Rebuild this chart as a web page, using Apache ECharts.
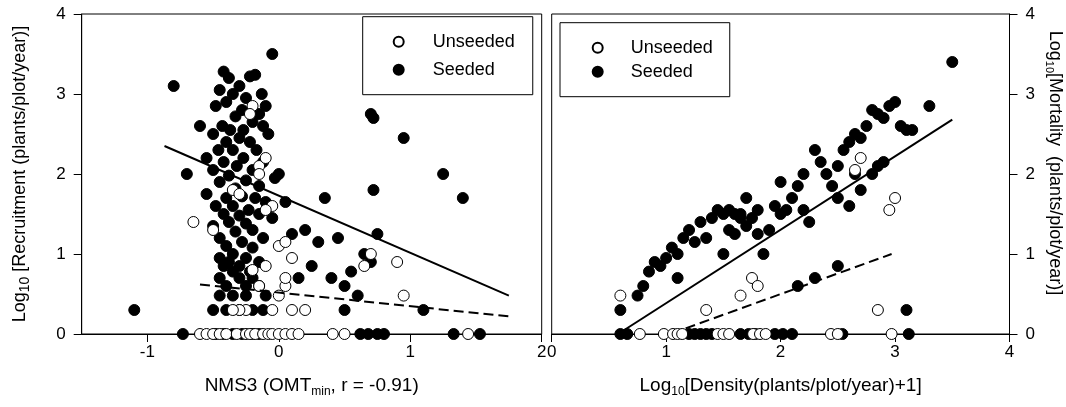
<!DOCTYPE html>
<html><head><meta charset="utf-8">
<script src="https://cdn.jsdelivr.net/npm/echarts@6/dist/echarts.min.js"></script>
<style>html,body{margin:0;padding:0;background:#fff}#c{width:1066px;height:407px}</style>
</head><body><div id="c"></div>
<script>
// ---- data ----
const leftXTicks = [-1, 0, 1, 2];
const rightXTicks = [0, 1, 2, 3, 4];
const yTicks = [0, 1, 2, 3, 4];

const leftSeeded = [
 [-0.42,3.28],[-0.38,3.2],[-0.3,3.1],[-0.22,3.22],[-0.18,3.24],[-0.13,3.0],[-0.35,3.0],[-0.45,3.05],[-0.05,3.5],[-0.8,3.1],
 [-0.25,2.95],[-0.4,2.9],[-0.1,2.85],[-0.28,2.8],[-0.48,2.85],[-0.15,2.75],[-0.33,2.72],[-0.2,2.65],[-0.43,2.6],[-0.6,2.6],
 [-0.37,2.55],[-0.27,2.55],[-0.12,2.6],[-0.5,2.5],[-0.3,2.45],[-0.22,2.4],[-0.4,2.4],[-0.08,2.5],[-0.46,2.3],[-0.35,2.3],
 [-0.17,2.3],[-0.55,2.2],[-0.27,2.2],[-0.42,2.15],[-0.12,2.15],[-0.32,2.1],[-0.5,2.05],[-0.2,2.05],[-0.7,2.0],[-0.38,1.98],
 [-0.03,1.95],[-0.25,1.92],[-0.45,1.9],[-0.15,1.85],[-0.33,1.82],[-0.55,1.75],[-0.28,1.72],[-0.4,1.7],[-0.18,1.7],[-0.1,1.65],
 [-0.48,1.6],[-0.35,1.6],[-0.23,1.55],[-0.42,1.5],[-0.3,1.48],[-0.15,1.5],[-0.05,1.45],[-0.38,1.4],[-0.25,1.38],[-0.5,1.35],
 [-0.2,1.3],[-0.33,1.28],[-0.45,1.2],[-0.12,1.2],[-0.28,1.15],[-0.4,1.1],[-0.2,1.08],[-0.35,1.0],[-0.45,0.95],[-0.25,0.95],
 [-0.15,0.9],[-0.38,0.9],[-0.3,0.85],[-0.42,0.85],[-0.22,0.78],[-0.35,0.78],[-0.45,0.7],[-0.3,0.7],[-0.2,0.7],[-0.4,0.6],
 [-0.25,0.6],[-0.15,0.6],[-0.35,0.48],[-0.25,0.48],[-0.45,0.48],[-0.1,0.48],[-0.4,0.3],[-0.3,0.3],[-0.2,0.3],[-0.12,0.3],
 [-0.5,0.3],[-1.1,0.3],
 [0.0,2.0],[0.05,1.65],[0.1,1.25],[0.2,1.3],[0.3,1.15],[0.35,1.7],[0.4,0.7],[0.45,1.2],[0.5,0.6],[0.5,0.3],[0.6,0.48],
 [0.65,1.0],[0.7,2.75],[0.72,2.7],[0.72,1.8],[0.75,1.25],[0.7,0.9],[0.95,2.45],[1.1,0.3],[1.25,2.0],[1.4,1.7],[0.25,0.85],
 [0.15,0.7],[0.55,0.78],
 [-0.73,0],[-0.48,0],[-0.42,0],[-0.35,0],[-0.28,0],[-0.2,0],[-0.15,0],[0.62,0],[0.68,0],[0.75,0],[0.8,0],[1.33,0],[1.53,0]
];
const leftUnseeded = [
 [-0.65,1.4],[-0.5,1.3],[-0.35,1.8],[-0.2,2.85],[-0.22,2.75],[-0.15,2.1],[-0.1,2.2],[-0.05,1.6],[-0.3,1.75],[0.0,1.1],
 [0.05,1.15],[0.1,0.95],[-0.2,0.8],[-0.15,0.6],[-0.1,0.85],[0.05,0.6],[0.0,0.48],[0.1,0.3],[0.2,0.3],[-0.25,0.3],
 [-0.3,0.3],[-0.35,0.3],[-0.05,0.3],[0.65,0.85],[0.7,1.0],[0.9,0.9],[0.95,0.48],[-0.15,2.0],[-0.1,1.55],[0.05,0.7],
 [-0.6,0],[-0.55,0],[-0.5,0],[-0.45,0],[-0.4,0],[-0.32,0],[-0.25,0],[-0.22,0],[-0.18,0],[-0.12,0],[-0.08,0],[-0.05,0],
 [0.0,0],[0.05,0],[0.1,0],[0.15,0],[0.41,0],[0.5,0],[1.44,0]
];
const leftSeededFit = [[-0.87,2.35],[1.75,0.48]];
const leftUnseededFit = [[-0.6,0.62],[1.75,0.22]];

const rightSeeded = [
 [0.6,0.3],[0.75,0.48],[0.8,0.6],[0.85,0.78],[0.9,0.9],[0.95,0.85],[1.0,0.95],[1.05,1.08],[1.1,0.7],[1.1,1.0],
 [1.15,1.2],[1.2,1.3],[1.25,1.15],[1.3,1.4],[1.35,1.2],[1.4,1.45],[1.45,1.55],[1.5,1.5],[1.55,1.55],[1.6,1.5],
 [1.65,1.45],[1.7,1.35],[1.5,1.0],[1.55,1.3],[1.6,1.25],[1.65,1.5],[1.7,1.7],[1.75,1.45],[1.8,1.55],[1.8,1.25],
 [1.85,1.0],[1.9,1.3],[1.95,1.6],[2.0,1.5],[2.05,1.55],[2.0,1.9],[2.1,1.7],[2.15,1.85],[2.2,2.0],[2.2,1.55],
 [2.25,1.4],[2.3,2.3],[2.35,2.15],[2.4,2.0],[2.45,1.85],[2.5,2.1],[2.5,1.7],[2.55,2.3],[2.6,2.4],[2.65,2.5],
 [2.7,2.45],[2.75,2.6],[2.8,2.8],[2.85,2.75],[2.9,2.7],[2.95,2.85],[3.0,2.9],[3.05,2.6],[3.1,2.55],[3.15,2.55],
 [3.3,2.85],[3.5,3.4],[2.6,1.6],[2.65,2.0],[2.7,1.8],[2.8,2.0],[2.85,2.1],[2.9,2.15],[2.15,0.6],[2.3,0.7],[2.5,0.85],
 [3.1,0.3],
 [0.6,0],[0.66,0],[1.2,0],[1.25,0],[1.3,0],[1.35,0],[1.4,0],[1.65,0],[1.72,0],[1.78,0],[1.95,0],[2.02,0],[2.1,0],[2.54,0],[3.12,0]
];
const rightUnseeded = [
 [0.6,0.48],[1.35,0.3],[1.75,0.7],[1.65,0.48],[1.8,0.6],[2.65,2.05],[2.7,2.2],[2.95,1.55],[3.0,1.7],[2.85,0.3],
 [0.77,0],[0.98,0],[1.06,0],[1.1,0],[1.14,0],[1.45,0],[1.5,0],[1.55,0],[1.76,0],[1.82,0],[1.87,0],[2.44,0],[2.5,0],[2.97,0]
];
const rightSeededFit = [[0.58,0],[3.5,2.68]];
const rightUnseededFit = [[1.17,0.07],[2.97,1.0]];

// ---- chart ----
const FONT = 'Liberation Sans, Arial, sans-serif';
const black = '#000';

function xAxis(grid, min, max, ticks, name, subSize) {
  return {
    type: 'value', gridIndex: grid, min: min, max: max,
    axisLine: { onZero: false, lineStyle: { color: black, width: 1 } },
    axisTick: { customValues: ticks, length: 8, lineStyle: { color: black } },
    axisLabel: { customValues: ticks, fontSize: 17, color: black, fontFamily: FONT, margin: 10 },
    splitLine: { show: false },
    name: name, nameLocation: 'middle', nameGap: 42,
    nameTextStyle: { fontSize: 19, color: black, fontFamily: FONT, lineHeight: 20,
      rich: { s: { fontSize: subSize, lineHeight: 12, padding: [11, 0, 0, 0], fontFamily: FONT, color: black } } }
  };
}
function yAxis(grid, pos, name, gap, rot, subStyle, pad) {
  return {
    type: 'value', gridIndex: grid, min: 0, max: 4, position: pos,
    axisLine: { show: true, onZero: false, lineStyle: { color: black, width: 1 } },
    axisTick: { show: true, customValues: yTicks, length: 8, lineStyle: { color: black } },
    axisLabel: { customValues: yTicks, fontSize: 17, color: black, fontFamily: FONT, margin: 16 },
    splitLine: { show: false },
    name: name, nameLocation: 'middle', nameGap: gap, nameRotate: rot,
    nameTextStyle: { fontSize: 18, color: black, fontFamily: FONT, lineHeight: 20, padding: pad, rich: { s: subStyle } }
  };
}
function scatter(name, data, xi, open) {
  return {
    type: 'scatter', name: name, xAxisIndex: xi, yAxisIndex: xi, data: data,
    symbol: 'circle', symbolSize: 11,
    itemStyle: open ? { color: '#fff', borderColor: black, borderWidth: 1, opacity: 1 }
                    : { color: black, borderColor: black, borderWidth: 1, opacity: 1 },
    emphasis: { disabled: true }, z: open ? 3 : 2
  };
}
function fit(data, xi, dashed) {
  return {
    type: 'line', xAxisIndex: xi, yAxisIndex: xi, data: data, symbol: 'none',
    lineStyle: { color: black, width: 2, type: dashed ? [10, 5] : 'solid' },
    z: 4, silent: true
  };
}
function legend(left, top, padding, gap, textPad) {
  return {
    left: left, top: top, orient: 'vertical',
    data: ['Unseeded', 'Seeded'],
    selectedMode: false, icon: 'circle', itemWidth: 10, itemHeight: 10, itemGap: gap,
    borderColor: black, borderWidth: 1, padding: padding,
    textStyle: { fontSize: 18, color: black, fontFamily: FONT, padding: [0, 0, 0, textPad] }
  };
}

const chart = echarts.init(document.getElementById('c'), null, { renderer: 'canvas' });
chart.setOption({
  animation: false,
  backgroundColor: '#fff',
  grid: [
    { left: 81.7, top: 14, width: 460, height: 320, show: true, borderColor: black, borderWidth: 1 },
    { left: 551.7, top: 14, width: 460, height: 320, show: true, borderColor: black, borderWidth: 1 }
  ],
  xAxis: [
    xAxis(0, -1.5, 2, leftXTicks, 'NMS3 (OMT{s|min}, r = -0.91)', 12),
    xAxis(1, 0, 4, rightXTicks, 'Log{s|10}[Density(plants/plot/year)+1]', 12)
  ],
  yAxis: [
    yAxis(0, 'left', 'Log{s|10} [Recruitment (plants/plot/year)]', 52, 90,
      { fontSize: 14, lineHeight: 14, padding: [10, 0, 0, 0], fontFamily: FONT, color: black }, [0, 0, 0, 0]),
    yAxis(1, 'right', 'Log{s|10}[Mortality  (plants/plot/year)]', 35, -90,
      { fontSize: 11, lineHeight: 12, padding: [10, 0, 0, 0], fontFamily: FONT, color: black }, [0, 22, 0, 0])
  ],
  legend: [ legend(362.7, 16.7, [16, 18, 16, 30], 10, 24), legend(560, 22.7, [16, 17, 16, 31.7], 6, 23) ],
  series: [
    scatter('Seeded', leftSeeded, 0, false),
    scatter('Unseeded', leftUnseeded, 0, true),
    fit(leftSeededFit, 0, false),
    fit(leftUnseededFit, 0, true),
    scatter('Seeded', rightSeeded, 1, false),
    scatter('Unseeded', rightUnseeded, 1, true),
    fit(rightSeededFit, 1, false),
    fit(rightUnseededFit, 1, true)
  ]
});
</script>
</body></html>
